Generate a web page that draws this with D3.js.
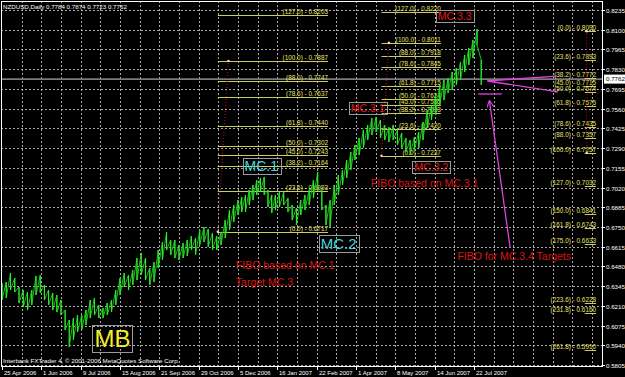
<!DOCTYPE html>
<html><head><meta charset="utf-8">
<script src="https://cdn.jsdelivr.net/npm/d3@7"></script>
<style>body{margin:0;background:#000;overflow:hidden}svg{display:block}</style>
</head><body><svg id="c" width="625" height="377"></svg>
<script>
// ---------- DATA ----------
const header = "NZDUSD,Daily  0.7784 0.7874 0.7723 0.7762";
const footer = "Interbank FXTrader 4, \u00a9 2001-2006 MetaQuotes Software Corp.";
const lastPrice = 0.7762;
const priceTicks = [0.8235,0.8100,0.7965,0.7830,0.7695,0.7560,0.7425,0.7290,0.7155,0.7020,0.6885,0.6750,0.6615,0.6480,0.6345,0.6210,0.6075,0.5940,0.5805];
const dateTicks = ["2006-04-25","2006-06-01","2006-07-09","2006-08-15","2006-09-21","2006-10-29","2006-12-05","2007-01-16","2007-02-22","2007-04-01","2007-05-08","2007-06-14","2007-07-22"];
const dateLabels = ["25 Apr 2006","1 Jun 2006","9 Jul 2006","15 Aug 2006","21 Sep 2006","29 Oct 2006","5 Dec 2006","16 Jan 2007","22 Feb 2007","1 Apr 2007","8 May 2007","14 Jun 2007","22 Jul 2007"];

const dates = ["2006-04-25","2006-04-29","2006-05-03","2006-05-07","2006-05-11","2006-05-15","2006-05-19","2006-05-23","2006-05-27","2006-05-31",
"2006-06-04","2006-06-08","2006-06-12","2006-06-16","2006-06-20","2006-06-24","2006-06-28","2006-07-02","2006-07-06","2006-07-10",
"2006-07-14","2006-07-18","2006-07-22","2006-07-26","2006-07-30","2006-08-03","2006-08-07","2006-08-11","2006-08-15","2006-08-19",
"2006-08-23","2006-08-27","2006-08-31","2006-09-04","2006-09-08","2006-09-12","2006-09-16","2006-09-20","2006-09-24","2006-09-28",
"2006-10-02","2006-10-06","2006-10-10","2006-10-14","2006-10-18","2006-10-22","2006-10-26","2006-10-30","2006-11-03","2006-11-07",
"2006-11-11","2006-11-15","2006-11-19","2006-11-23","2006-11-27","2006-12-01","2006-12-05","2006-12-09","2006-12-13","2006-12-17",
"2006-12-21","2006-12-25","2006-12-29","2007-01-02","2007-01-06","2007-01-10","2007-01-14","2007-01-18","2007-01-22","2007-01-26",
"2007-01-30","2007-02-03","2007-02-07","2007-02-11","2007-02-15","2007-02-19","2007-02-23","2007-02-27","2007-03-03","2007-03-07",
"2007-03-11","2007-03-15","2007-03-19","2007-03-23","2007-03-27","2007-03-31","2007-04-04","2007-04-08","2007-04-12","2007-04-16",
"2007-04-20","2007-04-24","2007-04-28","2007-05-02","2007-05-06","2007-05-10","2007-05-14","2007-05-18","2007-05-22","2007-05-26",
"2007-05-30","2007-06-03","2007-06-07","2007-06-11","2007-06-15","2007-06-19","2007-06-23","2007-06-27","2007-07-01","2007-07-05",
"2007-07-09","2007-07-13","2007-07-17","2007-07-21","2007-07-25","2007-07-29"];
const highs = [0.6366,0.6373,0.6435,0.6400,0.6339,0.6318,0.6305,0.6318,0.6414,0.6421,
0.6353,0.6318,0.6298,0.6284,0.6250,0.6181,0.6113,0.6126,0.6147,0.6147,
0.6181,0.6250,0.6264,0.6216,0.6195,0.6229,0.6250,0.6318,0.6400,0.6435,
0.6421,0.6455,0.6537,0.6572,0.6537,0.6469,0.6510,0.6592,0.6647,0.6715,
0.6661,0.6661,0.6626,0.6640,0.6661,0.6688,0.6674,0.6729,0.6750,0.6736,
0.6708,0.6688,0.6715,0.6797,0.6866,0.6900,0.6934,0.6955,0.6969,0.7003,
0.7037,0.7071,0.7085,0.7092,0.7003,0.6969,0.6969,0.6989,0.6989,0.6948,
0.6900,0.6880,0.6934,0.6969,0.7003,0.7071,0.7126,0.7003,0.6900,0.6934,
0.7037,0.7106,0.7140,0.7208,0.7263,0.7311,0.7359,0.7414,0.7448,0.7496,
0.7503,0.7482,0.7448,0.7434,0.7448,0.7414,0.7393,0.7359,0.7345,0.7366,
0.7400,0.7468,0.7551,0.7585,0.7653,0.7722,0.7756,0.7770,0.7811,0.7838,
0.7879,0.7927,0.7975,0.8030,0.8105,0.7893];
const lows = [0.6250,0.6264,0.6318,0.6305,0.6229,0.6202,0.6181,0.6216,0.6284,0.6298,
0.6250,0.6216,0.6181,0.6168,0.6147,0.6045,0.5928,0.5976,0.6031,0.6045,
0.6079,0.6126,0.6147,0.6126,0.6126,0.6147,0.6168,0.6216,0.6284,0.6339,
0.6318,0.6353,0.6387,0.6421,0.6387,0.6353,0.6373,0.6469,0.6524,0.6592,
0.6558,0.6537,0.6524,0.6537,0.6551,0.6592,0.6558,0.6626,0.6647,0.6613,
0.6592,0.6592,0.6626,0.6674,0.6729,0.6784,0.6832,0.6852,0.6852,0.6900,
0.6934,0.6969,0.6989,0.6969,0.6887,0.6845,0.6866,0.6887,0.6900,0.6852,
0.6797,0.6763,0.6832,0.6866,0.6900,0.6948,0.7003,0.6866,0.6763,0.6750,
0.6900,0.6969,0.7037,0.7085,0.7140,0.7208,0.7242,0.7290,0.7345,0.7379,
0.7400,0.7359,0.7345,0.7331,0.7345,0.7311,0.7290,0.7263,0.7242,0.7277,
0.7290,0.7345,0.7427,0.7482,0.7516,0.7585,0.7619,0.7667,0.7687,0.7722,
0.7756,0.7811,0.7859,0.7906,0.7995,0.7722];

// Fibonacci objects
const fib1Levels = ["0.0","23.6","38.2","45.0","50.0","61.8","78.6","88.0","100.0","127.0"];
const fib1Prices = [0.6717,0.6993,0.7164,0.7243,0.7302,0.7440,0.7637,0.7747,0.7887,0.8203];
const fib1Span = ["2006-11-16","2007-03-05"];
const fib1Anchors = [["2006-11-16",0.6717],["2006-11-26",0.7887]];

const fib2Levels = ["0.0","23.6","38.2","45.0","50.0","61.8","78.6","88.0","100.0","127.0"];
const fib2Prices = [0.7237,0.7420,0.7533,0.7585,0.7624,0.7715,0.7845,0.7918,0.8011,0.8220];
const fib2Span = ["2007-04-25","2007-06-20"];
const fib2Anchors = [["2007-04-25",0.7237],["2007-05-02",0.8011]];

const fib3Levels = ["0.0","23.6","38.2","45.0","50.0","61.8","78.6","88.0","100.0","127.0","150.0","161.8","175.0","223.6","231.8","261.8"];
const fib3Prices = [0.8090,0.7893,0.7772,0.7715,0.7674,0.7575,0.7435,0.7357,0.7257,0.7032,0.6841,0.6743,0.6633,0.6228,0.6160,0.5910];
const fib3Span = ["2007-11-06","2007-11-17"];
const fib3Anchors = [["2007-11-08",0.8090],["2007-11-08",0.7257]];

// Magenta target lines
const targetLines = [
  [["2007-08-04",0.7749],["2007-10-10",0.7783]],
  [["2007-08-04",0.7749],["2007-10-11",0.7674]],
  [["2007-07-26",0.7660],["2007-08-18",0.7660]]
];
const targetArrow = [["2007-08-26",0.6606],["2007-08-06",0.7612]];

// Text annotations
const notes = [
  {t:"FIBO based on MC.1", d:"2006-12-03", p:0.6462},
  {t:"Target MC.3", d:"2006-12-03", p:0.6346},
  {t:"FIBO based on MC.3.1", d:"2007-04-15", p:0.7023},
  {t:"FIBO for MC.3.4 Targets", d:"2007-07-06", p:0.6524}
];
const boxes = [
  {t:"MC.1", d:"2006-12-12", p:0.7133, c:"#3fd6dc", s:14},
  {t:"MC.2", d:"2007-02-26", p:0.6599, c:"#3fd6dc", s:15},
  {t:"MC.3.1", d:"2007-03-27", p:0.7537, c:"#e01818", s:10.5},
  {t:"MC.3.2", d:"2007-05-26", p:0.7133, c:"#e01818", s:10.5},
  {t:"MC.3.3", d:"2007-06-17", p:0.8167, c:"#e01818", s:10.5},
  {t:"MB", d:"2006-07-22", p:0.5928, c:"#f2ee2a", s:24}
];

// ---------- CHART ----------
const parse = d3.timeParse("%Y-%m-%d");
const svg = d3.select("#c");
const L = 1, T = 1, R = 602, B = 366;
const FONT = "'Liberation Sans', Arial, sans-serif";
svg.append("rect").attr("width",625).attr("height",377).attr("fill","#000");

const tickD = dateTicks.map(parse);
const x = d3.scaleTime().domain(tickD).range(tickD.map((d,i)=>2 + i*39.33));
const y = d3.scaleLinear().domain([0.5805,0.8235]).range([365,10]);
const X = s => x(parse(s));

const defs = svg.append("defs");
defs.append("clipPath").attr("id","clip")
  .append("rect").attr("x",L).attr("y",T).attr("width",R-L).attr("height",B-T);

// grid
const grid = svg.append("g");
priceTicks.forEach(p => {
  grid.append("line").attr("x1",L).attr("x2",R).attr("y1",Math.round(y(p))+0.5).attr("y2",Math.round(y(p))+0.5)
    .attr("stroke","#a8a8a8").attr("stroke-dasharray","2,2");
});
const lx = tickD.map(d=>x(d));
const step = (lx[lx.length-1]-lx[0])/(lx.length-1)/2;
for (let gx = lx[0]+step; gx < R-1; gx += step) {
  grid.append("line").attr("x1",Math.round(gx)+0.5).attr("x2",Math.round(gx)+0.5).attr("y1",T).attr("y2",B)
    .attr("stroke","#a8a8a8").attr("stroke-dasharray","2,2");
}

const plot = svg.append("g").attr("clip-path","url(#clip)");

// current price line
plot.append("line").attr("x1",L).attr("x2",R).attr("y1",y(lastPrice)).attr("y2",y(lastPrice))
  .attr("stroke","#7a7a7a").attr("stroke-width",1.6);

// fibonacci
function fib(levels, prices, span, anchors, lineCol) {
  const g = plot.append("g");
  const x1 = X(span[0]), x2 = X(span[1]);
  levels.forEach((lv,i) => {
    const yy = Math.round(y(prices[i]))+0.5;
    g.append("line").attr("x1",x1).attr("x2",x2).attr("y1",yy).attr("y2",yy)
      .attr("stroke",lineCol).attr("stroke-width",1);
    g.append("text").attr("x",x2).attr("y",yy-1.5).attr("text-anchor","end")
      .attr("font-family",FONT).attr("font-size",6.4).attr("fill","#e8e46c")
      .text(`(${lv}) - ${prices[i].toFixed(4)}`);
  });
  g.append("line").attr("x1",X(anchors[0][0])).attr("y1",y(anchors[0][1]))
    .attr("x2",X(anchors[1][0])).attr("y2",y(anchors[1][1]))
    .attr("stroke","#c01010").attr("stroke-dasharray","1,2").attr("stroke-width",1);
  anchors.forEach(a => g.append("circle").attr("cx",X(a[0])).attr("cy",y(a[1])).attr("r",1.2).attr("fill","#ffd8c8"));
}
fib(fib1Levels, fib1Prices, fib1Span, fib1Anchors, "#cccc5a");
fib(fib2Levels, fib2Prices, fib2Span, fib2Anchors, "#cccc5a");
fib(fib3Levels, fib3Prices, fib3Span, fib3Anchors, "#cccc5a");

// price bars: sawtooth through high/low + bar strokes
const pts = [];
dates.forEach((d,i) => {
  const xx = X(d);
  pts.push([xx, y(highs[i])]); pts.push([xx, y(lows[i])]);
});
plot.append("path").attr("d", d3.line()(pts)).attr("fill","none")
  .attr("stroke","#1fcf1f").attr("stroke-width",0.9);
dates.forEach((d,i) => {
  plot.append("line").attr("x1",X(d)).attr("x2",X(d)).attr("y1",y(highs[i])).attr("y2",y(lows[i]))
    .attr("stroke","#2ee82e").attr("stroke-width",1.1);
});

// magenta targets
const MAG = "#e040e0";
targetLines.forEach(l => plot.append("line")
  .attr("x1",X(l[0][0])).attr("y1",y(l[0][1])).attr("x2",X(l[1][0])).attr("y2",y(l[1][1]))
  .attr("stroke",MAG).attr("stroke-width",1.3));
defs.append("marker").attr("id","ah").attr("viewBox","0 0 10 10").attr("refX",9).attr("refY",5)
  .attr("markerWidth",7).attr("markerHeight",7).attr("markerUnits","userSpaceOnUse").attr("orient","auto")
  .append("path").attr("d","M0,0 L10,5 L0,10").attr("fill","none").attr("stroke",MAG).attr("stroke-width",1.6);
plot.append("line").attr("x1",X(targetArrow[0][0])).attr("y1",y(targetArrow[0][1]))
  .attr("x2",X(targetArrow[1][0])).attr("y2",y(targetArrow[1][1]))
  .attr("stroke",MAG).attr("stroke-width",1.3).attr("marker-end","url(#ah)");

// red notes
notes.forEach(n => plot.append("text").attr("x",X(n.d)).attr("y",y(n.p))
  .attr("font-family",FONT).attr("font-size",10.5).attr("fill","#dd1414").text(n.t));

// boxed labels
boxes.forEach(b => {
  const g = plot.append("g");
  const t = g.append("text").attr("x",X(b.d)).attr("y",y(b.p)).attr("font-family",FONT)
    .attr("font-size",b.s).attr("fill",b.c).text(b.t);
  const bb = t.node().getBBox();
  g.insert("rect","text").attr("x",Math.round(bb.x-2)+0.5).attr("y",Math.round(bb.y)+0.5)
    .attr("width",Math.round(bb.width+4)).attr("height",Math.round(bb.height))
    .attr("fill","none").attr("stroke","#9a9a9a").attr("stroke-width",1);
});

// frame
svg.append("rect").attr("x",L+0.5).attr("y",T+0.5).attr("width",R-L).attr("height",B-T)
  .attr("fill","none").attr("stroke","#fff").attr("stroke-width",1);

// price axis
priceTicks.forEach(p => {
  const yy = Math.round(y(p))+0.5;
  svg.append("line").attr("x1",R).attr("x2",R+3).attr("y1",yy).attr("y2",yy).attr("stroke","#fff");
  svg.append("text").attr("x",606).attr("y",yy+2.2).attr("font-family",FONT).attr("font-size",6.2)
    .attr("fill","#fff").text(p.toFixed(4));
});
svg.append("rect").attr("x",604).attr("y",y(lastPrice)-4.5).attr("width",21).attr("height",9).attr("fill","#fff");
svg.append("text").attr("x",606).attr("y",y(lastPrice)+2.2).attr("font-family",FONT).attr("font-size",6.2)
  .attr("fill","#000").text(lastPrice.toFixed(4));

// date axis
dateLabels.forEach((lab,i) => {
  const xx = Math.round(x(tickD[i]))+0.5;
  svg.append("line").attr("x1",xx).attr("x2",xx).attr("y1",B).attr("y2",B+4).attr("stroke","#fff");
  svg.append("text").attr("x",xx+1.5).attr("y",374.5).attr("font-family",FONT).attr("font-size",6)
    .attr("fill","#fff").text(lab);
});

// header / footer
svg.append("text").attr("x",3).attr("y",8.5).attr("font-family",FONT).attr("font-size",6.2).attr("fill","#fff").text(header);
svg.append("text").attr("x",3).attr("y",363).attr("font-family",FONT).attr("font-size",6.2).attr("fill","#fff").text(footer);
</script></body></html>
